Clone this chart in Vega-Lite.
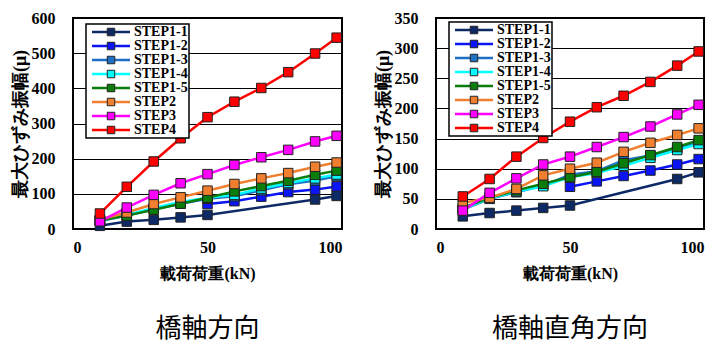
{
  "$schema": "https://vega.github.io/schema/vega-lite/v6.json",
  "background": "white",
  "padding": {"left": 10, "top": 9, "right": 0, "bottom": 0},
  "datasets": {
    "L": [
      {"s":"STEP1-1","x":10,"y":9},{"s":"STEP1-1","x":20,"y":21},{"s":"STEP1-1","x":30,"y":26},{"s":"STEP1-1","x":40,"y":33},{"s":"STEP1-1","x":50,"y":40},{"s":"STEP1-1","x":90,"y":84},{"s":"STEP1-1","x":98,"y":94},
      {"s":"STEP1-2","x":50,"y":71},{"s":"STEP1-2","x":60,"y":79},{"s":"STEP1-2","x":70,"y":92},{"s":"STEP1-2","x":80,"y":105},{"s":"STEP1-2","x":90,"y":112},{"s":"STEP1-2","x":98,"y":121},
      {"s":"STEP1-3","x":10,"y":23},{"s":"STEP1-3","x":20,"y":38},{"s":"STEP1-3","x":30,"y":56},{"s":"STEP1-3","x":40,"y":72},{"s":"STEP1-3","x":50,"y":86},{"s":"STEP1-3","x":60,"y":93},{"s":"STEP1-3","x":70,"y":110},{"s":"STEP1-3","x":80,"y":127},{"s":"STEP1-3","x":90,"y":138},{"s":"STEP1-3","x":98,"y":150},
      {"s":"STEP1-4","x":10,"y":24},{"s":"STEP1-4","x":20,"y":40},{"s":"STEP1-4","x":30,"y":60},{"s":"STEP1-4","x":40,"y":77},{"s":"STEP1-4","x":50,"y":89},{"s":"STEP1-4","x":60,"y":97},{"s":"STEP1-4","x":70,"y":115},{"s":"STEP1-4","x":80,"y":131},{"s":"STEP1-4","x":90,"y":144},{"s":"STEP1-4","x":98,"y":155},
      {"s":"STEP1-5","x":10,"y":24},{"s":"STEP1-5","x":20,"y":38},{"s":"STEP1-5","x":30,"y":55},{"s":"STEP1-5","x":40,"y":72},{"s":"STEP1-5","x":50,"y":89},{"s":"STEP1-5","x":60,"y":107},{"s":"STEP1-5","x":70,"y":122},{"s":"STEP1-5","x":80,"y":137},{"s":"STEP1-5","x":90,"y":154},{"s":"STEP1-5","x":98,"y":166},
      {"s":"STEP2","x":10,"y":27},{"s":"STEP2","x":20,"y":47},{"s":"STEP2","x":30,"y":71},{"s":"STEP2","x":40,"y":90},{"s":"STEP2","x":50,"y":109},{"s":"STEP2","x":60,"y":128},{"s":"STEP2","x":70,"y":144},{"s":"STEP2","x":80,"y":159},{"s":"STEP2","x":90,"y":177},{"s":"STEP2","x":98,"y":189},
      {"s":"STEP3","x":10,"y":22},{"s":"STEP3","x":20,"y":61},{"s":"STEP3","x":30,"y":97},{"s":"STEP3","x":40,"y":130},{"s":"STEP3","x":50,"y":156},{"s":"STEP3","x":60,"y":182},{"s":"STEP3","x":70,"y":204},{"s":"STEP3","x":80,"y":225},{"s":"STEP3","x":90,"y":249},{"s":"STEP3","x":98,"y":265},
      {"s":"STEP4","x":10,"y":44},{"s":"STEP4","x":20,"y":120},{"s":"STEP4","x":30,"y":192},{"s":"STEP4","x":40,"y":258},{"s":"STEP4","x":50,"y":318},{"s":"STEP4","x":60,"y":362},{"s":"STEP4","x":70,"y":401},{"s":"STEP4","x":80,"y":446},{"s":"STEP4","x":90,"y":499},{"s":"STEP4","x":98,"y":544}
    ],
    "R": [
      {"s":"STEP1-1","x":10,"y":21},{"s":"STEP1-1","x":20,"y":26.5},{"s":"STEP1-1","x":30,"y":30.5},{"s":"STEP1-1","x":40,"y":35},{"s":"STEP1-1","x":50,"y":39},{"s":"STEP1-1","x":90,"y":83},{"s":"STEP1-1","x":98,"y":94},
      {"s":"STEP1-2","x":50,"y":70},{"s":"STEP1-2","x":60,"y":79},{"s":"STEP1-2","x":70,"y":88},{"s":"STEP1-2","x":80,"y":97},{"s":"STEP1-2","x":90,"y":107},{"s":"STEP1-2","x":98,"y":116},
      {"s":"STEP1-3","x":10,"y":32},{"s":"STEP1-3","x":20,"y":50},{"s":"STEP1-3","x":30,"y":61},{"s":"STEP1-3","x":40,"y":72},{"s":"STEP1-3","x":50,"y":90},{"s":"STEP1-3","x":60,"y":96},{"s":"STEP1-3","x":70,"y":114},{"s":"STEP1-3","x":80,"y":122},{"s":"STEP1-3","x":90,"y":133},{"s":"STEP1-3","x":98,"y":143},
      {"s":"STEP1-4","x":10,"y":33},{"s":"STEP1-4","x":20,"y":51},{"s":"STEP1-4","x":30,"y":62},{"s":"STEP1-4","x":40,"y":71},{"s":"STEP1-4","x":50,"y":86},{"s":"STEP1-4","x":60,"y":93},{"s":"STEP1-4","x":70,"y":105},{"s":"STEP1-4","x":80,"y":118},{"s":"STEP1-4","x":90,"y":131},{"s":"STEP1-4","x":98,"y":141},
      {"s":"STEP1-5","x":10,"y":35},{"s":"STEP1-5","x":20,"y":52},{"s":"STEP1-5","x":30,"y":64},{"s":"STEP1-5","x":40,"y":75},{"s":"STEP1-5","x":50,"y":86},{"s":"STEP1-5","x":60,"y":95},{"s":"STEP1-5","x":70,"y":109},{"s":"STEP1-5","x":80,"y":122.6},{"s":"STEP1-5","x":90,"y":136},{"s":"STEP1-5","x":98,"y":147.5},
      {"s":"STEP2","x":10,"y":43},{"s":"STEP2","x":20,"y":52},{"s":"STEP2","x":30,"y":66.5},{"s":"STEP2","x":40,"y":89},{"s":"STEP2","x":50,"y":100},{"s":"STEP2","x":60,"y":110},{"s":"STEP2","x":70,"y":128},{"s":"STEP2","x":80,"y":143},{"s":"STEP2","x":90,"y":156},{"s":"STEP2","x":98,"y":167},
      {"s":"STEP3","x":10,"y":30.5},{"s":"STEP3","x":20,"y":60},{"s":"STEP3","x":30,"y":84},{"s":"STEP3","x":40,"y":107},{"s":"STEP3","x":50,"y":120},{"s":"STEP3","x":60,"y":136},{"s":"STEP3","x":70,"y":152.5},{"s":"STEP3","x":80,"y":170},{"s":"STEP3","x":90,"y":190},{"s":"STEP3","x":98,"y":206},
      {"s":"STEP4","x":10,"y":54},{"s":"STEP4","x":20,"y":83},{"s":"STEP4","x":30,"y":120},{"s":"STEP4","x":40,"y":151},{"s":"STEP4","x":50,"y":178},{"s":"STEP4","x":60,"y":202},{"s":"STEP4","x":70,"y":221},{"s":"STEP4","x":80,"y":244},{"s":"STEP4","x":90,"y":271},{"s":"STEP4","x":98,"y":294.5}
    ]
  },
  "hconcat": [
    {
      "width": 269, "height": 211,
      "data": {"name": "L"},
      "title": {"text": "橋軸方向"},
      "encoding": {
        "x": {"field": "x", "type": "quantitative", "title": "載荷荷重(kN)", "scale": {"domain": [0, 100]}, "axis": {"values": [0, 50, 100]}},
        "y": {"field": "y", "type": "quantitative", "title": "最大ひずみ振幅(μ)", "scale": {"domain": [0, 600]}, "axis": {"values": [0, 100, 200, 300, 400, 500, 600]}}
      },
      "layer": [
        {
          "mark": {"type": "line", "strokeWidth": 2.5},
          "encoding": {
            "color": {"field": "s", "type": "nominal",
              "scale": {"domain": ["STEP1-1","STEP1-2","STEP1-3","STEP1-4","STEP1-5","STEP2","STEP3","STEP4"], "range": ["#0E2A66","#0A14F5","#1E70C4","#00FFFF","#0A7D0A","#F08030","#FF00FF","#FF0000"]},
              "legend": {"title": null, "orient": "none", "legendX": 13, "legendY": 6, "zindex": 1, "symbolType": "M-3.8,0H3.8", "symbolSize": 100, "symbolStrokeWidth": 2.5, "strokeColor": "#000", "fillColor": "white"}}
          }
        },
        {
          "mark": {"type": "point", "shape": "square", "filled": true, "size": 90, "stroke": "#222", "strokeWidth": 1, "opacity": 1},
          "encoding": {
            "fill": {"field": "s", "type": "nominal",
              "scale": {"domain": ["STEP1-1","STEP1-2","STEP1-3","STEP1-4","STEP1-5","STEP2","STEP3","STEP4","-"], "range": ["#0E2A66","#0A14F5","#1E70C4","#00FFFF","#0A7D0A","#F08030","#FF00FF","#FF0000","#FFFFFF"]},
              "legend": {"title": null, "values": ["STEP1-1","STEP1-2","STEP1-3","STEP1-4","STEP1-5","STEP2","STEP3","STEP4"], "orient": "none", "legendX": 13, "legendY": 6, "zindex": 2, "symbolType": "M-0.75,-0.75H0.75V0.75H-0.75Z", "symbolSize": 100, "symbolStrokeWidth": 1, "symbolStrokeColor": "#222", "labelColor": "transparent"}}
          }
        }
      ],
      "resolve": {"legend": {"color": "independent", "fill": "independent"}}
    },
    {
      "width": 268, "height": 211,
      "data": {"name": "R"},
      "title": {"text": "橋軸直角方向"},
      "encoding": {
        "x": {"field": "x", "type": "quantitative", "title": "載荷荷重(kN)", "scale": {"domain": [0, 100]}, "axis": {"values": [0, 50, 100]}},
        "y": {"field": "y", "type": "quantitative", "title": "最大ひずみ振幅(μ)", "scale": {"domain": [0, 350]}, "axis": {"values": [0, 50, 100, 150, 200, 250, 300, 350]}}
      },
      "layer": [
        {
          "mark": {"type": "line", "strokeWidth": 2.5},
          "encoding": {
            "color": {"field": "s", "type": "nominal",
              "scale": {"domain": ["STEP1-1","STEP1-2","STEP1-3","STEP1-4","STEP1-5","STEP2","STEP3","STEP4"], "range": ["#0E2A66","#0A14F5","#1E70C4","#00FFFF","#0A7D0A","#F08030","#FF00FF","#FF0000"]},
              "legend": {"title": null, "orient": "none", "legendX": 13, "legendY": 4, "zindex": 1, "symbolType": "M-3.8,0H3.8", "symbolSize": 100, "symbolStrokeWidth": 2.5, "strokeColor": "#000", "fillColor": "white"}}
          }
        },
        {
          "mark": {"type": "point", "shape": "square", "filled": true, "size": 90, "stroke": "#222", "strokeWidth": 1, "opacity": 1},
          "encoding": {
            "fill": {"field": "s", "type": "nominal",
              "scale": {"domain": ["STEP1-1","STEP1-2","STEP1-3","STEP1-4","STEP1-5","STEP2","STEP3","STEP4","-"], "range": ["#0E2A66","#0A14F5","#1E70C4","#00FFFF","#0A7D0A","#F08030","#FF00FF","#FF0000","#FFFFFF"]},
              "legend": {"title": null, "values": ["STEP1-1","STEP1-2","STEP1-3","STEP1-4","STEP1-5","STEP2","STEP3","STEP4"], "orient": "none", "legendX": 13, "legendY": 4, "zindex": 2, "symbolType": "M-0.75,-0.75H0.75V0.75H-0.75Z", "symbolSize": 100, "symbolStrokeWidth": 1, "symbolStrokeColor": "#222", "labelColor": "transparent"}}
          }
        }
      ],
      "resolve": {"legend": {"color": "independent", "fill": "independent"}}
    }
  ],
  "spacing": 94,
  "bounds": "flush",
  "resolve": {"scale": {"color": "independent", "fill": "independent", "x": "independent", "y": "independent"}, "legend": {"color": "independent", "fill": "independent"}},
  "config": {
    "view": {"stroke": "#000", "strokeWidth": 2},
    "axis": {
      "grid": false, "domain": false, "ticks": false, "labelOverlap": false,
      "labelFont": "Liberation Serif", "labelFontWeight": "bold", "labelFontSize": 16, "labelColor": "#000",
      "titleFont": "Liberation Serif", "titleFontWeight": "bold", "titleFontSize": 16, "titleColor": "#000"
    },
    "axisY": {"grid": true, "gridColor": "#000", "gridWidth": 1.2, "gridOpacity": 1, "labelPadding": 18, "titlePadding": 2, "titleFontSize": 18},
    "axisX": {"labelPadding": 10, "titlePadding": 10},
    "legend": {
      "labelFont": "Liberation Serif", "labelFontWeight": "bold", "labelFontSize": 14, "labelColor": "#000",
      "rowPadding": 0, "padding": 1, "symbolOffset": 17, "labelOffset": 16, "strokeWidth": 1.5
    },
    "title": {"orient": "bottom", "font": "Noto Sans CJK JP", "fontSize": 26, "fontWeight": "normal", "color": "#000", "offset": 35, "anchor": "middle"}
  }
}
